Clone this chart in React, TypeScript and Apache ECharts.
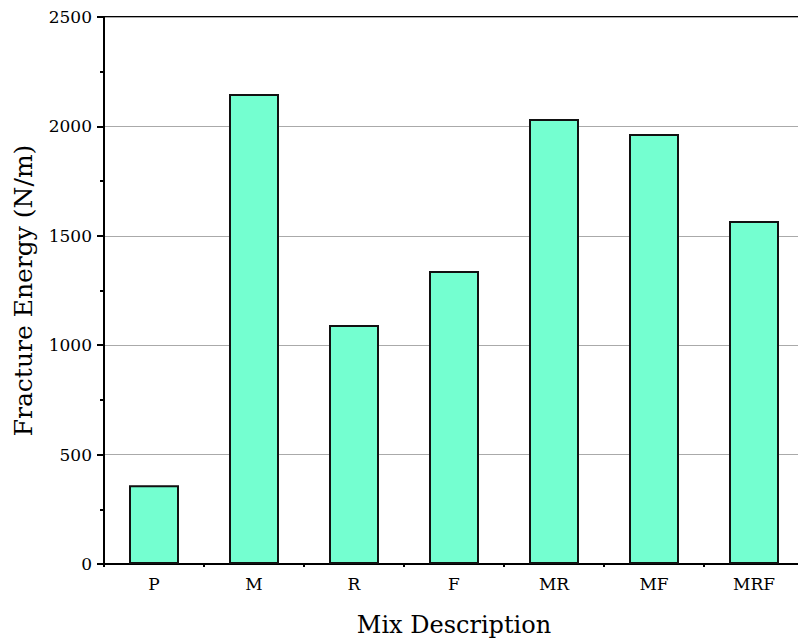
import React, { useEffect, useRef } from "react";
import * as echarts from "echarts";

const categories = ["P", "M", "R", "F", "MR", "MF", "MRF"];
const fractureEnergy = [360, 2148, 1092, 1339, 2034, 1965, 1568];
const yTicks = { min: 0, max: 2500, interval: 500 };

const FONT = "DejaVu Serif";

export default function App() {
  const ref = useRef<HTMLDivElement>(null);
  useEffect(() => {
    if (!ref.current) return;
    const chart = echarts.init(ref.current, undefined, { renderer: "svg" });
    chart.setOption({
      animation: false,
      backgroundColor: "#ffffff",
      grid: {
        left: 104,
        top: 17,
        bottom: 79,
        width: 700,
        outerBoundsMode: "none",
        containLabel: false,
        show: true,
        borderColor: "#000",
        borderWidth: 2,
        backgroundColor: "transparent",
      },
      xAxis: [
        {
          type: "category",
          data: categories,
          position: "bottom",
          name: "Mix Description",
          nameLocation: "middle",
          nameGap: 49,
          nameTextStyle: { fontFamily: FONT, fontSize: 24, color: "#000" },
          axisLine: { lineStyle: { color: "#000", width: 2 } },
          axisTick: { alignWithLabel: true, length: 6, lineStyle: { color: "#000", width: 2 } },
          axisLabel: { fontFamily: FONT, fontSize: 17, color: "#000", margin: 11 },
        },
        {
          type: "category",
          data: categories,
          position: "bottom",
          gridIndex: 0,
          axisLine: { show: false },
          axisTick: { show: true, length: 3, lineStyle: { color: "#000", width: 2 } },
          axisLabel: { show: false },
        },
      ],
      yAxis: {
        type: "value",
        min: yTicks.min,
        max: yTicks.max,
        interval: yTicks.interval,
        name: "Fracture Energy (N/m)",
        nameLocation: "middle",
        nameGap: 68,
        nameTextStyle: { fontFamily: FONT, fontSize: 25, color: "#000" },
        axisLine: { show: true, lineStyle: { color: "#000", width: 2 } },
        axisTick: { show: true, length: 7, lineStyle: { color: "#000", width: 2 } },
        minorTick: { show: true, splitNumber: 2, length: 4, lineStyle: { color: "#000", width: 2 } },
        splitLine: { show: true, lineStyle: { color: "#aaaaaa", width: 1 } },
        axisLabel: {
          fontFamily: FONT,
          fontSize: 17,
          color: "#000",
          margin: 12,
          formatter: (v: number) => String(v),
        },
      },
      series: [
        {
          type: "bar",
          xAxisIndex: 0,
          data: fractureEnergy,
          barWidth: "50%",
          itemStyle: { color: "#74FFD0", borderColor: "#111", borderWidth: 2 },
        },
      ],
    });
    return () => chart.dispose();
  }, []);
  return (
    <div
      ref={ref}
      style={{ position: "fixed", left: 0, top: 0, width: 798, height: 643 }}
    />
  );
}
